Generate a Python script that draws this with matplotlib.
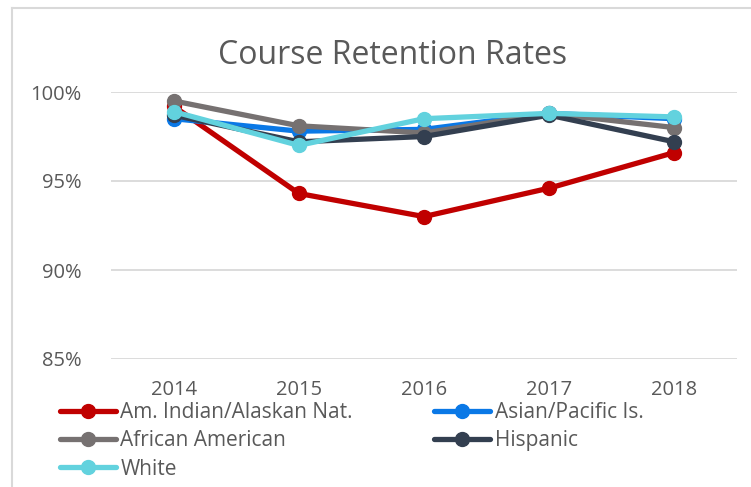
import matplotlib
matplotlib.use("Agg")
import matplotlib.pyplot as plt
from matplotlib.lines import Line2D

years = ["2014", "2015", "2016", "2017", "2018"]

am_indian = [0.992, 0.943, 0.930, 0.946, 0.966]
asian = [0.985, 0.978, 0.979, 0.988, 0.985]
african_am = [0.995, 0.981, 0.977, 0.988, 0.980]
hispanic = [0.987, 0.972, 0.975, 0.987, 0.972]
white = [0.989, 0.970, 0.985, 0.988, 0.986]

series_names = ["Am. Indian/Alaskan Nat.", "Asian/Pacific Is.", "African American",
                "Hispanic", "White"]
series_vals = [am_indian, asian, african_am, hispanic, white]
colors = ["#C00000", "#0A78E6", "#767171", "#333F50", "#62D2DE"]

plt.rcParams['font.family'] = ['Open Sans', 'DejaVu Sans']
TXT = "#595959"

fig = plt.figure(figsize=(7.51, 4.87), dpi=100)
ax = fig.add_axes([111 / 751, 1 - 359 / 487, (737 - 111) / 751, (359 - 92) / 487])

x = list(range(len(years)))
handles = []
for i, (name, vals, c) in enumerate(zip(series_names, series_vals, colors)):
    ln, = ax.plot(x, vals, color=c, lw=3.8, marker='o', markersize=10,
                  solid_capstyle='round', label=name, zorder=3 + i)
    handles.append(ln)

ax.set_xlim(-0.5, 4.5)
ax.set_ylim(0.85, 1.0)
ax.set_yticks([0.85, 0.90, 0.95, 1.0])
ax.set_yticklabels(["85%", "90%", "95%", "100%"])
ax.set_xticks(x)
ax.set_xticklabels(years)
ax.tick_params(length=0, labelsize=14.5, labelcolor=TXT)
ax.tick_params(axis='x', pad=15)
ax.tick_params(axis='y', pad=21)
ax.grid(axis='y', color="#D9D9D9", lw=1.3)
ax.set_axisbelow(True)
for s in ax.spines.values():
    s.set_visible(False)

fig.text(393 / 751, 1 - 56 / 487, "Course Retention Rates", ha='center', va='center',
         fontsize=23, color=TXT)

order = [0, 2, 4, 1, 3]
fig.legend([handles[k] for k in order], [series_names[k] for k in order],
           loc='upper left', bbox_to_anchor=(60 / 751, 1 - 402 / 487), ncol=2,
           frameon=False, fontsize=15, labelcolor=TXT, borderpad=0, borderaxespad=0,
           handlelength=2.7, handletextpad=0.2, labelspacing=0.35, columnspacing=3.9)

# chart frame
fig.add_artist(Line2D([12 / 751, 12 / 751], [0, 1 - 8 / 487], color="#D9D9D9", lw=1.5))
fig.add_artist(Line2D([12 / 751, 1], [1 - 8 / 487, 1 - 8 / 487], color="#D9D9D9", lw=1.5))

fig.savefig("out.png", dpi=100)
